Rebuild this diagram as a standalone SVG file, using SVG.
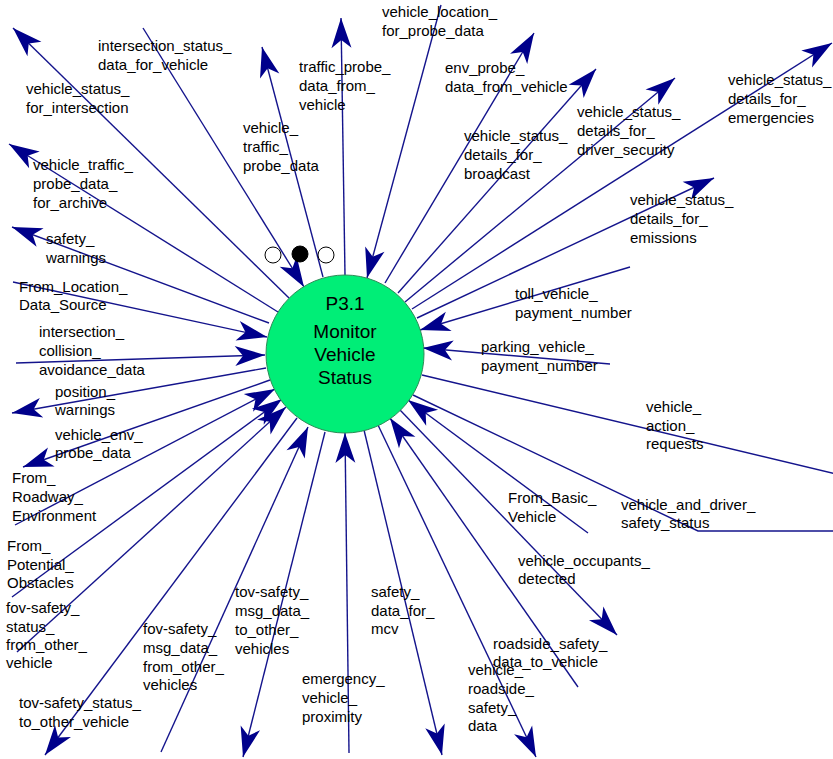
<svg xmlns="http://www.w3.org/2000/svg" width="833" height="759" viewBox="0 0 833 759">
  <style>
    .flow { fill: none; stroke: #14148c; stroke-width: 1.4; }
    .lbl { font-family: "Liberation Sans", Arial, sans-serif; font-size: 15px; fill: #000; }
    .ptxt { font-family: "Liberation Sans", Arial, sans-serif; font-size: 19px; fill: #000; text-anchor: middle; }
    .dot { stroke: #000; stroke-width: 1; }
  </style>
  <defs>
    <marker id="head" viewBox="-31 -11 32 22" markerWidth="32" markerHeight="22" refX="0" refY="0" orient="auto" markerUnits="userSpaceOnUse">
      <path d="M0,0 L-30,-10 L-22,0 L-30,10 Z" fill="#00008b"/>
    </marker>
  </defs>
  <rect width="833" height="759" fill="#fff"/>

  <!-- data flows -->
  <g id="connectors">
    <!-- outgoing -->
    <line class="flow" marker-end="url(#head)" x1="289" y1="298" x2="13" y2="28"/>
    <line class="flow" marker-end="url(#head)" x1="278" y1="312" x2="9" y2="144"/>
    <line class="flow" marker-end="url(#head)" x1="269" y1="323" x2="12" y2="227"/>
    <line class="flow" marker-end="url(#head)" x1="266" y1="368" x2="12" y2="413"/>
    <line class="flow" marker-end="url(#head)" x1="270" y1="380" x2="23" y2="467"/>
    <line class="flow" marker-end="url(#head)" x1="297" y1="418" x2="45" y2="755"/>
    <line class="flow" marker-end="url(#head)" x1="325" y1="432" x2="243" y2="757"/>
    <line class="flow" marker-end="url(#head)" x1="364" y1="430" x2="442" y2="755"/>
    <line class="flow" marker-end="url(#head)" x1="378" y1="425" x2="536" y2="757"/>
    <line class="flow" marker-end="url(#head)" x1="400" y1="410" x2="617" y2="635"/>
    <polyline class="flow" points="413,395 698,531 840,531"/>
    <line class="flow" x1="422" y1="375" x2="840" y2="475"/>
    <line class="flow" marker-end="url(#head)" x1="417" y1="318" x2="714" y2="178"/>
    <line class="flow" marker-end="url(#head)" x1="412" y1="309" x2="832" y2="43"/>
    <line class="flow" marker-end="url(#head)" x1="405" y1="302" x2="675" y2="78"/>
    <line class="flow" marker-end="url(#head)" x1="398" y1="293" x2="596" y2="69"/>
    <line class="flow" marker-end="url(#head)" x1="385" y1="283" x2="534" y2="33"/>
    <line class="flow" marker-end="url(#head)" x1="345" y1="275" x2="341" y2="18"/>
    <line class="flow" marker-end="url(#head)" x1="323" y1="277" x2="262" y2="47"/>
    <!-- incoming -->
    <line class="flow" marker-end="url(#head)" x1="143" y1="28" x2="304" y2="287"/>
    <line class="flow" marker-end="url(#head)" x1="441" y1="5" x2="367" y2="278"/>
    <line class="flow" marker-end="url(#head)" x1="630" y1="267" x2="420" y2="330"/>
    <line class="flow" marker-end="url(#head)" x1="610" y1="364" x2="423" y2="348"/>
    <line class="flow" marker-end="url(#head)" x1="588" y1="533" x2="408" y2="400"/>
    <line class="flow" marker-end="url(#head)" x1="578" y1="687" x2="390" y2="418"/>
    <line class="flow" marker-end="url(#head)" x1="349" y1="753" x2="345" y2="433"/>
    <line class="flow" marker-end="url(#head)" x1="161" y1="752" x2="308" y2="427"/>
    <line class="flow" marker-end="url(#head)" x1="17" y1="652" x2="286" y2="407"/>
    <line class="flow" marker-end="url(#head)" x1="12" y1="597" x2="282" y2="399"/>
    <line class="flow" marker-end="url(#head)" x1="15" y1="525" x2="275" y2="389"/>
    <line class="flow" marker-end="url(#head)" x1="16" y1="363" x2="265" y2="355"/>
    <line class="flow" marker-end="url(#head)" x1="13" y1="282" x2="267" y2="337"/>
  </g>

  <!-- process bubble -->
  <g id="p3_1">
    <circle cx="345" cy="354" r="79" fill="#00ee77" stroke="#2e8b57" stroke-width="1"/>
    <text class="ptxt" x="345" y="310">P3.1</text>
    <text class="ptxt" x="345" y="338">Monitor</text>
    <text class="ptxt" x="345" y="361">Vehicle</text>
    <text class="ptxt" x="345" y="384">Status</text>
  </g>

  <!-- control marks above the bubble -->
  <g id="control_marks">
    <circle class="dot" cx="273" cy="255" r="8" fill="#fff"/>
    <circle class="dot" cx="300" cy="254" r="8" fill="#000"/>
    <circle class="dot" cx="326" cy="255" r="8" fill="#fff"/>
  </g>

  <!-- flow labels -->
  <g id="labels" class="lbl">
    <text x="382" y="17"><tspan x="382">vehicle_location_</tspan><tspan x="382" dy="19">for_probe_data</tspan></text>
    <text x="98" y="51"><tspan x="98">intersection_status_</tspan><tspan x="98" dy="19">data_for_vehicle</tspan></text>
    <text x="299" y="72"><tspan x="299">traffic_probe_</tspan><tspan x="299" dy="19">data_from_</tspan><tspan x="299" dy="19">vehicle</tspan></text>
    <text x="26" y="94"><tspan x="26">vehicle_status_</tspan><tspan x="26" dy="19">for_intersection</tspan></text>
    <text x="243" y="133"><tspan x="243">vehicle_</tspan><tspan x="243" dy="19">traffic_</tspan><tspan x="243" dy="19">probe_data</tspan></text>
    <text x="445" y="73"><tspan x="445">env_probe_</tspan><tspan x="445" dy="19">data_from_vehicle</tspan></text>
    <text x="464" y="141"><tspan x="464">vehicle_status_</tspan><tspan x="464" dy="19">details_for_</tspan><tspan x="464" dy="19">broadcast</tspan></text>
    <text x="577" y="117"><tspan x="577">vehicle_status_</tspan><tspan x="577" dy="19">details_for_</tspan><tspan x="577" dy="19">driver_security</tspan></text>
    <text x="728" y="85"><tspan x="728">vehicle_status_</tspan><tspan x="728" dy="19">details_for_</tspan><tspan x="728" dy="19">emergencies</tspan></text>
    <text x="630" y="205"><tspan x="630">vehicle_status_</tspan><tspan x="630" dy="19">details_for_</tspan><tspan x="630" dy="19">emissions</tspan></text>
    <text x="33" y="170"><tspan x="33">vehicle_traffic_</tspan><tspan x="33" dy="19">probe_data_</tspan><tspan x="33" dy="19">for_archive</tspan></text>
    <text x="46" y="244"><tspan x="46">safety_</tspan><tspan x="46" dy="19">warnings</tspan></text>
    <text x="19" y="292"><tspan x="19">From_Location_</tspan><tspan x="19" dy="18">Data_Source</tspan></text>
    <text x="39" y="337"><tspan x="39">intersection_</tspan><tspan x="39" dy="19">collision_</tspan><tspan x="39" dy="19">avoidance_data</tspan></text>
    <text x="55" y="397"><tspan x="55">position_</tspan><tspan x="55" dy="18">warnings</tspan></text>
    <text x="55" y="440"><tspan x="55">vehicle_env_</tspan><tspan x="55" dy="18">probe_data</tspan></text>
    <text x="12" y="483"><tspan x="12">From_</tspan><tspan x="12" dy="19">Roadway_</tspan><tspan x="12" dy="19">Environment</tspan></text>
    <text x="7" y="551"><tspan x="7">From_</tspan><tspan x="7" dy="19">Potential_</tspan><tspan x="7" dy="18">Obstacles</tspan></text>
    <text x="6" y="613"><tspan x="6">fov-safety_</tspan><tspan x="6" dy="19">status_</tspan><tspan x="6" dy="18">from_other_</tspan><tspan x="6" dy="18">vehicle</tspan></text>
    <text x="143" y="634"><tspan x="143">fov-safety_</tspan><tspan x="143" dy="19">msg_data_</tspan><tspan x="143" dy="19">from_other_</tspan><tspan x="143" dy="18">vehicles</tspan></text>
    <text x="235" y="597"><tspan x="235">tov-safety_</tspan><tspan x="235" dy="19">msg_data_</tspan><tspan x="235" dy="19">to_other_</tspan><tspan x="235" dy="19">vehicles</tspan></text>
    <text x="19" y="708"><tspan x="19">tov-safety_status_</tspan><tspan x="19" dy="19">to_other_vehicle</tspan></text>
    <text x="302" y="684"><tspan x="302">emergency_</tspan><tspan x="302" dy="19">vehicle_</tspan><tspan x="302" dy="19">proximity</tspan></text>
    <text x="371" y="597"><tspan x="371">safety_</tspan><tspan x="371" dy="19">data_for_</tspan><tspan x="371" dy="18">mcv</tspan></text>
    <text x="515" y="299"><tspan x="515">toll_vehicle_</tspan><tspan x="515" dy="19">payment_number</tspan></text>
    <text x="481" y="352"><tspan x="481">parking_vehicle_</tspan><tspan x="481" dy="19">payment_number</tspan></text>
    <text x="646" y="412"><tspan x="646">vehicle_</tspan><tspan x="646" dy="19">action_</tspan><tspan x="646" dy="18">requests</tspan></text>
    <text x="508" y="503"><tspan x="508">From_Basic_</tspan><tspan x="508" dy="19">Vehicle</tspan></text>
    <text x="621" y="510"><tspan x="621">vehicle_and_driver_</tspan><tspan x="621" dy="18">safety_status</tspan></text>
    <text x="518" y="566"><tspan x="518">vehicle_occupants_</tspan><tspan x="518" dy="18">detected</tspan></text>
    <text x="493" y="649"><tspan x="493">roadside_safety_</tspan><tspan x="493" dy="18">data_to_vehicle</tspan></text>
    <text x="468" y="675"><tspan x="468">vehicle_</tspan><tspan x="468" dy="19">roadside_</tspan><tspan x="468" dy="19">safety_</tspan><tspan x="468" dy="18">data</tspan></text>
  </g>
</svg>
